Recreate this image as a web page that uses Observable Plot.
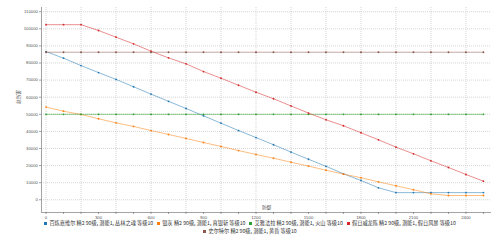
<!DOCTYPE html>
<html>
<head>
<meta charset="utf-8">
<script src="https://cdn.jsdelivr.net/npm/d3@7"></script>
<script src="https://cdn.jsdelivr.net/npm/@observablehq/plot@0.6"></script>
<style>
  html, body { margin: 0; padding: 0; background: #fff; }
  #chart { width: 500px; }
  #legend { width: 470px; margin: 0 auto; display: flex; flex-wrap: wrap; justify-content: center;
    font-family: "Noto Sans CJK SC", "Liberation Sans", sans-serif; font-size: 5.2px; line-height: 8px; color: #333; }
  .item { display: flex; align-items: center; margin: 0 2px; white-space: nowrap; }
  .sw { width: 3px; height: 3px; margin-right: 2.2px; display: inline-block; }
</style>
</head>
<body>
<div id="chart"></div>
<div id="legend"></div>
<script>
const defense = [0,100,200,300,400,500,600,700,800,900,1000,1100,1200,1300,1400,1500,1600,1700,1800,1900,2000,2100,2200,2300,2400,2500];
const seriesNames = [
  "百炼嘉维尔 精2 90级, 潜能1, 丛林之魂 等级10",
  "银灰 精2 90级, 潜能1, 真银斩 等级10",
  "艾雅法拉 精2 90级, 潜能1, 火山 等级10",
  "假日威龙陈 精2 90级, 潜能1, 假日风暴 等级10",
  "史尔特尔 精2 90级, 潜能1, 黄昏 等级10"
];
const colors = ["#1f77b4", "#ff7f0e", "#2ca02c", "#d62728", "#8c564b"];
const gavial = [86700,82800,78500,74400,70400,66100,61800,57600,53400,49100,44800,40500,36400,32200,27900,23700,19600,15200,11300,7000,4200,4200,4200,4200,4200,4200];
const silverash = [54200,51800,49900,47400,45000,42900,40500,38200,35900,33500,31200,28800,26500,24300,22000,19700,17300,15000,12900,10500,8200,5900,3500,2500,2500,2500];
const eyjafjalla = [50000,50000,50000,50000,50000,50000,50000,50000,50000,50000,50000,50000,50000,50000,50000,50000,50000,50000,50000,50000,50000,50000,50000,50000,50000,50000];
const chen = [102400,102400,102400,99000,95100,91200,86900,83000,79500,75000,71100,67000,62900,59100,54900,50700,46800,43300,39200,35100,30800,26900,22800,18900,14800,10900];
const surtr = [86300,86300,86300,86300,86300,86300,86300,86300,86300,86300,86300,86300,86300,86300,86300,86300,86300,86300,86300,86300,86300,86300,86300,86300,86300,86300];
const xTicks = [0,100,200,300,400,500,600,700,800,900,1000,1100,1200,1300,1400,1500,1600,1700,1800,1900,2000,2100,2200,2300,2400,2500];
const xLabelEvery = 300;
const xGrid = [0,200,400,600,800,1000,1200,1400,1600,1800,2000,2200,2400];
const yTicks = [0,10000,20000,30000,40000,50000,60000,70000,80000,90000,100000,110000];
const xTitle = "防御";
const yTitle = "总伤害";

const allSeries = [gavial, silverash, eyjafjalla, chen, surtr];
const rows = [];
allSeries.forEach((vals, si) => vals.forEach((v, i) => rows.push({x: defense[i], y: v, s: seriesNames[si]})));

const xDom = [-26, 2546];
const yDom = [-7430, 112460];

const marks = [
  Plot.gridY(yTicks, {stroke: "#bbb", strokeOpacity: 1, strokeDasharray: "1,1", strokeWidth: 0.6}),
  Plot.gridX(xGrid, {stroke: "#bbb", strokeOpacity: 1, strokeDasharray: "1,1", strokeWidth: 0.6}),
  Plot.ruleX([xDom[0]], {stroke: "#666", strokeWidth: 0.6}),
  Plot.ruleY([yDom[0]], {stroke: "#666", strokeWidth: 0.6}),
  Plot.axisX(xTicks, {anchor: "bottom", tickSize: 2, tickPadding: 1.5, fontSize: 4.3, stroke: "#666", strokeWidth: 0.6, fill: "#555",
    tickFormat: d => d % xLabelEvery === 0 ? String(d) : "", label: null}),
  Plot.axisY(yTicks, {anchor: "left", tickSize: 2, tickPadding: 1.5, fontSize: 4.3, stroke: "#666", strokeWidth: 0.6, fill: "#555",
    tickFormat: d => String(d), label: null}),
  Plot.text([xTitle], {frameAnchor: "bottom", dy: -3.5, fontSize: 4.6, fill: "#555"}),
  Plot.text([yTitle], {frameAnchor: "left", dx: -23, dy: -6, rotate: -90, fontSize: 4.6, fill: "#555"})
];
seriesNames.forEach((name, si) => {
  const d = rows.filter(r => r.s === name);
  marks.push(Plot.line(d, {x: "x", y: "y", stroke: colors[si], strokeWidth: 0.8, strokeOpacity: 0.65}));
  marks.push(Plot.dot(d, {x: "x", y: "y", r: 0.9, fill: colors[si], stroke: "none"}));
});

const chart = Plot.plot({
  width: 500,
  height: 219,
  marginLeft: 41,
  marginRight: 9,
  marginTop: 7,
  marginBottom: 7,
  style: {fontFamily: "'Liberation Sans', 'Noto Sans CJK SC', sans-serif", background: "#fff"},
  x: {domain: xDom},
  y: {domain: yDom},
  marks
});
document.getElementById("chart").appendChild(chart);

const legend = document.getElementById("legend");
seriesNames.forEach((name, si) => {
  const it = document.createElement("div");
  it.className = "item";
  const sw = document.createElement("span");
  sw.className = "sw";
  sw.style.background = colors[si];
  it.appendChild(sw);
  const t = document.createElement("span");
  t.textContent = name;
  it.appendChild(t);
  legend.appendChild(it);
});
</script>
</body>
</html>
